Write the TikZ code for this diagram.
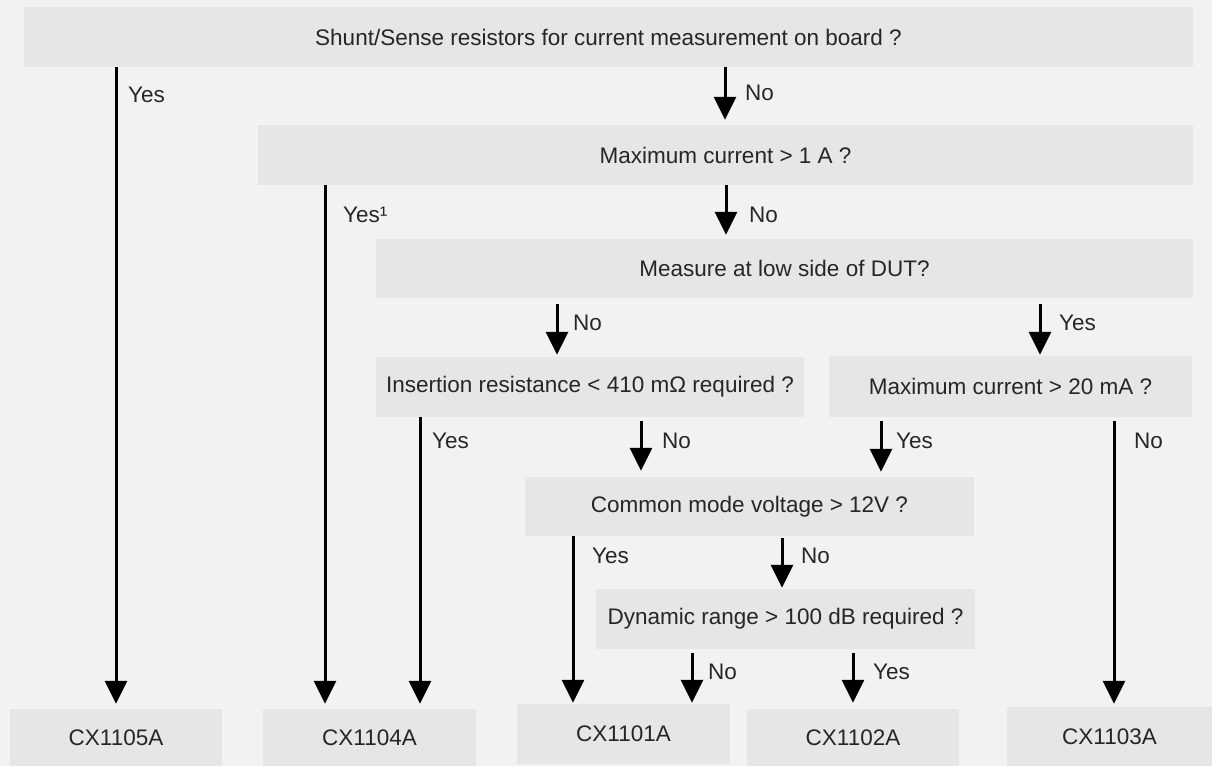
\documentclass[tikz,border=0pt]{standalone}
\usepackage{fontspec}
\setmainfont{Liberation Sans}
\usetikzlibrary{arrows.meta}
\definecolor{bgc}{HTML}{F2F2F2}
\definecolor{boxc}{HTML}{E6E6E6}
\definecolor{txtc}{HTML}{262626}
\tikzset{
  qbox/.style={rectangle, fill=boxc, draw=none, inner sep=0pt, text=txtc, anchor=center,
    font=\fontsize{22.5}{26}\selectfont},
  lbl/.style={anchor=west, inner sep=0pt, text=txtc, font=\fontsize{22.5}{26}\selectfont},
  arr/.style={line width=3pt, draw=black, -{Triangle[width=22pt,length=23pt]}}
}
\begin{document}
\begin{tikzpicture}[x=1pt,y=-1pt]
\useasboundingbox (0,0) rectangle (1212,766);
\fill[bgc] (0,0) rectangle (1212,766);

% question boxes
\node[qbox, minimum width=1169pt, minimum height=60pt] (top) at (608.5,37) {Shunt/Sense resistors for current measurement on board ?};
\node[qbox, minimum width=935pt, minimum height=60pt] (q1) at (725.5,155) {Maximum current > 1 A ?};
\node[qbox, minimum width=817pt, minimum height=59pt] (q2) at (784.5,268.5) {Measure at low side of DUT?};
\node[qbox, minimum width=428pt, minimum height=60pt] (q3) at (590,387) {Insertion resistance < 410 mΩ required ?};
\node[qbox, minimum width=363pt, minimum height=61pt] (q4) at (1010.5,386.5) {Maximum current > 20 mA ?};
\node[qbox, minimum width=449pt, minimum height=59pt] (q5) at (749.5,506.5) {Common mode voltage > 12V ?};
\node[qbox, minimum width=379pt, minimum height=60pt] (q6) at (785.5,619) {Dynamic range > 100 dB required ?};

% result boxes
\node[qbox, minimum width=212pt, minimum height=57pt] (c1105) at (116,737.5) {CX1105A};
\node[qbox, minimum width=213pt, minimum height=57pt] (c1104) at (369.5,737.5) {CX1104A};
\node[qbox, minimum width=213pt, minimum height=60pt] (c1101) at (623.5,734) {CX1101A};
\node[qbox, minimum width=212pt, minimum height=57pt] (c1102) at (853,737.5) {CX1102A};
\node[qbox, minimum width=205pt, minimum height=59pt] (c1103) at (1109.5,736.5) {CX1103A};

% connectors
\draw[arr, shorten >=5pt] (top.south -| 116,0) -- (c1105.north -| 116,0);
\draw[arr, shorten >=5pt] (top.south -| 725,0) -- (q1.north -| 725,0);
\draw[arr, shorten >=5pt] (q1.south -| 325,0) -- (c1104.north -| 325,0);
\draw[arr, shorten >=4pt] (q1.south -| 726,0) -- (q2.north -| 726,0);
\draw[arr, shorten <=6pt, shorten >=2pt] (q2.south -| 557,0) -- (q3.north -| 557,0);
\draw[arr, shorten <=6pt, shorten >=1pt] (q2.south -| 1040,0) -- (q4.north -| 1040,0);
\draw[arr, shorten >=5pt] (q3.south -| 420,0) -- (c1104.north -| 420,0);
\draw[arr, shorten <=4pt, shorten >=6pt] (q3.south -| 641,0) -- (q5.north -| 641,0);
\draw[arr, shorten <=4pt, shorten >=5pt] (q4.south -| 881,0) -- (q5.north -| 881,0);
\draw[arr, shorten <=4pt, shorten >=3pt] (q4.south -| 1114,0) -- (c1103.north -| 1114,0);
\draw[arr, shorten >=1pt] (q5.south -| 573,0) -- (c1101.north -| 573,0);
\draw[arr, shorten <=2pt, shorten >=1pt] (q5.south -| 782,0) -- (q6.north -| 782,0);
\draw[arr, shorten <=4pt, shorten >=1pt] (q6.south -| 692,0) -- (c1101.north -| 692,0);
\draw[arr, shorten <=4pt, shorten >=6pt] (q6.south -| 853,0) -- (c1102.north -| 853,0);

% labels
\node[lbl] (l1) at (128,95) {Yes};
\node[lbl] (l2) at (745,93) {No};
\node[lbl] (l3) at (343,215) {Yes¹};
\node[lbl] (l4) at (749,215) {No};
\node[lbl] (l5) at (573,323) {No};
\node[lbl] (l6) at (1059,323) {Yes};
\node[lbl] (l7) at (432,441) {Yes};
\node[lbl] (l8) at (662,441) {No};
\node[lbl] (l9) at (896,441) {Yes};
\node[lbl] (l10) at (1134,441) {No};
\node[lbl] (l11) at (592,556) {Yes};
\node[lbl] (l12) at (801,556) {No};
\node[lbl] (l13) at (708,672) {No};
\node[lbl] (l14) at (873,672) {Yes};
\end{tikzpicture}
\end{document}
